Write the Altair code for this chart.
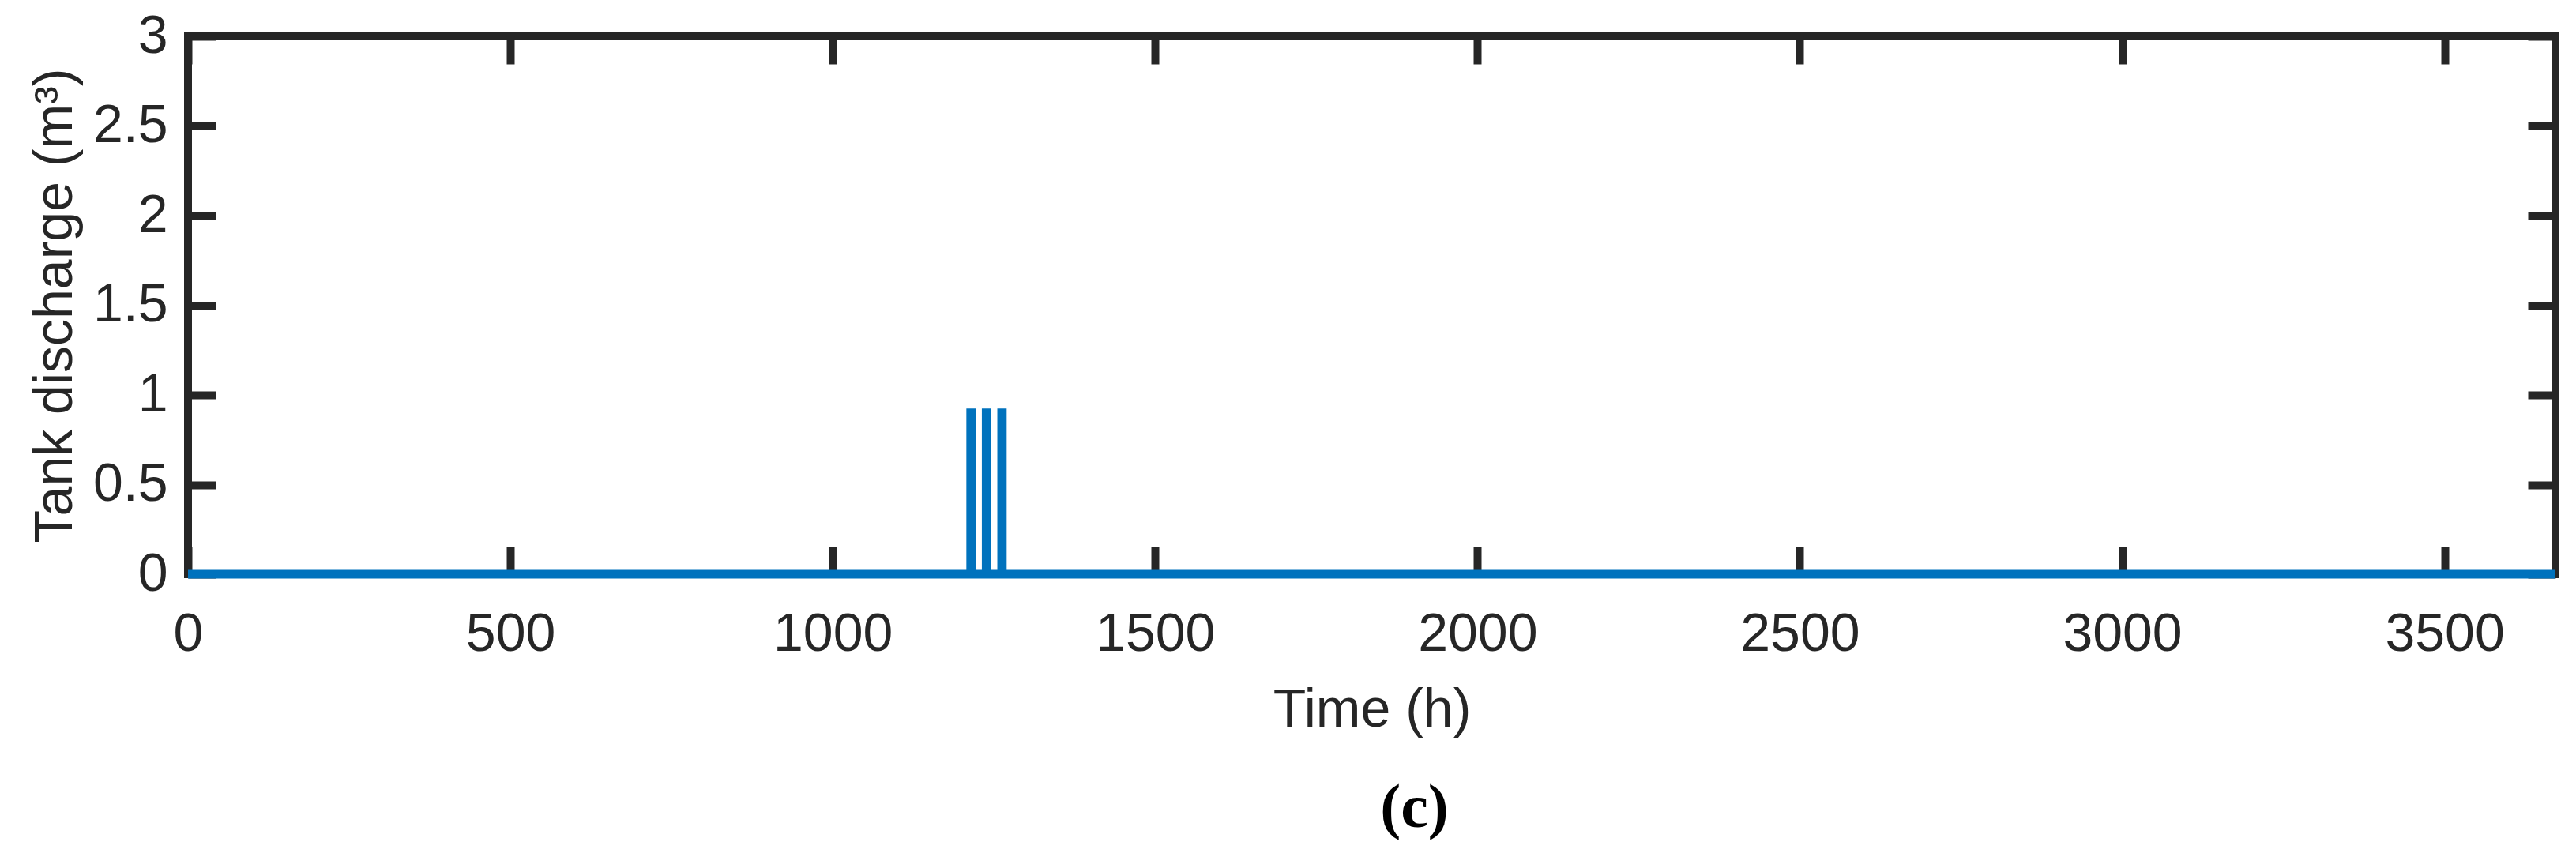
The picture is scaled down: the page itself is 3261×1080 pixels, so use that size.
import altair as alt
import pandas as pd

# Hourly tank discharge series (only change points listed; zero elsewhere)
time_h = [0, 1213, 1214, 1215, 1237, 1238, 1239, 1261, 1262, 1263, 3672]
discharge_m3 = [0, 0, 0.9, 0, 0, 0.9, 0, 0, 0.9, 0, 0]

x_ticks = [0, 500, 1000, 1500, 2000, 2500, 3000, 3500]
y_ticks = [0, 0.5, 1, 1.5, 2, 2.5, 3]
x_domain = [0, 3672]
y_domain = [0, 3]

df = pd.DataFrame({"time": time_h, "discharge": discharge_m3})

AX = "#262626"
TICK = 35
W, H = 2997, 681

x_scale = alt.Scale(domain=x_domain, nice=False, zero=False)
y_scale = alt.Scale(domain=y_domain, nice=False)

common_axis = dict(
    domain=False, grid=False, tickSize=TICK, tickWidth=10, tickColor=AX,
    offset=-TICK, labelColor=AX, labelFont="Liberation Sans",
    labelFontSize=68, titleFont="Liberation Sans", titleFontSize=68,
    titleColor=AX, titleFontWeight="normal", labelFlush=False,
    labelOverlap=False, labelBound=False,
)
frame_axis = {k: v for k, v in common_axis.items() if not k.startswith("label")}

main = alt.Chart(df).mark_line(
    color="#0072BD", strokeWidth=11, interpolate="step-after",
    strokeJoin="miter", strokeCap="butt"
).encode(
    x=alt.X("time:Q", scale=x_scale, axis=alt.Axis(
        orient="bottom", values=x_ticks, format="d", title="Time (h)",
        labelBaseline="alphabetic", labelPadding=96,
        titleBaseline="alphabetic", titleAlign="center",
        titleX=W / 2, titleY=227, **common_axis)),
    y=alt.Y("discharge:Q", scale=y_scale, axis=alt.Axis(
        orient="left", values=y_ticks, format="~g",
        title="Tank discharge (m³)",
        labelBaseline="middle", labelPadding=26, labelAlign="right",
        titleBaseline="alphabetic", titleAlign="center", titleAngle=270,
        titleX=-183, titleY=H / 2, **common_axis)),
)

frame_ticks = alt.Chart(df).mark_line(opacity=0).encode(
    x=alt.X("time:Q", scale=x_scale, axis=alt.Axis(
        orient="top", values=x_ticks, title=None, labels=False, **frame_axis)),
    y=alt.Y("discharge:Q", scale=y_scale, axis=alt.Axis(
        orient="right", values=y_ticks, title=None, labels=False, **frame_axis)),
)

chart = alt.layer(frame_ticks, main).resolve_axis(
    x="independent", y="independent"
).properties(
    width=W, height=H,
    autosize=alt.AutoSizeParams(type="none"),
    padding={"left": 230, "top": 38, "right": 10, "bottom": 348},
    title=alt.TitleParams(
        text="(c)", orient="bottom", font="Liberation Serif",
        fontWeight="bold", fontSize=78, color="black", anchor="middle",
        dx=54, offset=52,
    ),
).configure_view(stroke=AX, strokeWidth=10)

chart.save("out.html", embed_options={"renderer": "svg", "actions": False})
